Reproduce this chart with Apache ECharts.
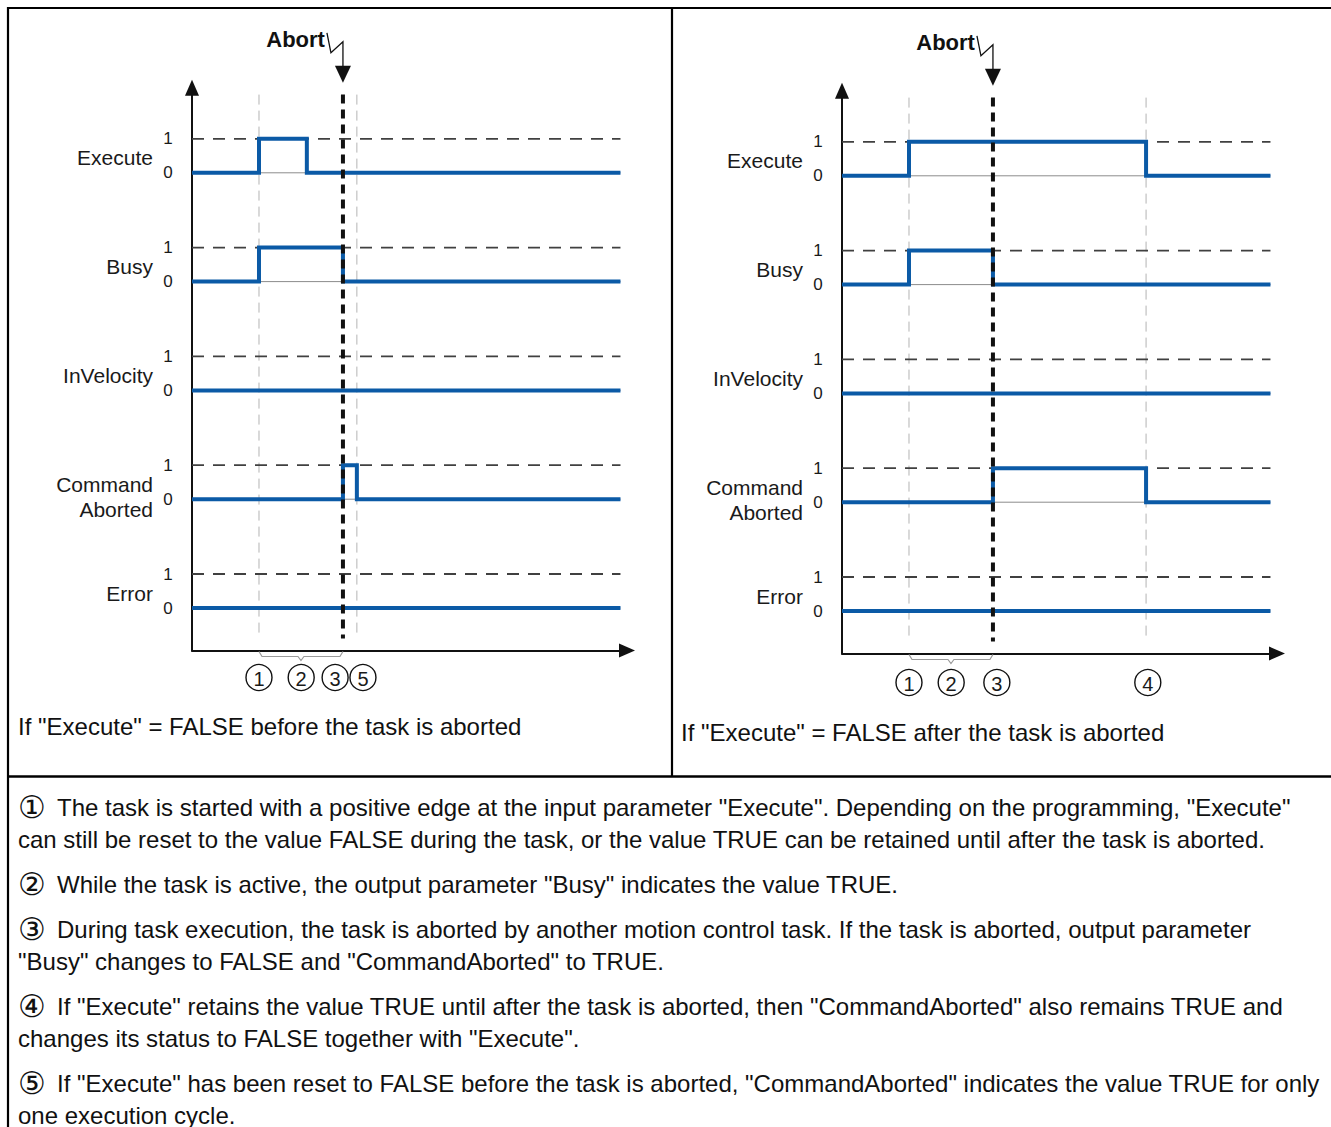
<!DOCTYPE html>
<html>
<head>
<meta charset="utf-8">
<script src="https://cdn.jsdelivr.net/npm/echarts@6/dist/echarts.min.js"></script>
<style>
html,body{margin:0;padding:0;background:#fff;}
#c{width:1331px;height:1127px;}
</style>
</head>
<body>
<div id="c"></div>
<script>
// ---------------- data ----------------
const signalNames = ['Execute', 'Busy', 'InVelocity', 'Command\nAborted', 'Error'];
const levelLabels = ['0', '1'];

// left panel: "Execute" = FALSE before the task is aborted  [time, level]
const leftExecute        = [[0, 0], [15.4, 1], [26.4, 0], [98.5, 0]];
const leftBusy           = [[0, 0], [15.4, 1], [34.7, 0], [98.5, 0]];
const leftInVelocity     = [[0, 0], [98.5, 0]];
const leftCommandAborted = [[0, 0], [34.7, 1], [37.9, 0], [98.5, 0]];
const leftError          = [[0, 0], [98.5, 0]];
const leftGuideTimes     = [15.4, 37.9];
const leftAbortTime      = 34.7;
const leftMarkerLabels   = ['1', '2', '3', '5'];
const leftMarkerTimes    = [15.4, 25.1, 32.9, 39.3];
const leftBraceTimes     = [15.4, 34.7];
const leftCaption        = 'If "Execute" = FALSE before the task is aborted';

// right panel: "Execute" = FALSE after the task is aborted
const rightExecute        = [[0, 0], [15.4, 1], [69.9, 0], [98.5, 0]];
const rightBusy           = [[0, 0], [15.4, 1], [34.7, 0], [98.5, 0]];
const rightInVelocity     = [[0, 0], [98.5, 0]];
const rightCommandAborted = [[0, 0], [34.7, 1], [69.9, 0], [98.5, 0]];
const rightError          = [[0, 0], [98.5, 0]];
const rightGuideTimes     = [15.4, 69.9];
const rightAbortTime      = 34.7;
const rightMarkerLabels   = ['1', '2', '3', '4'];
const rightMarkerTimes    = [15.4, 25.1, 35.6, 70.3];
const rightBraceTimes     = [15.4, 34.7];
const rightCaption        = 'If "Execute" = FALSE after the task is aborted';

const abortLabel = 'Abort';

const noteSymbols = ['\u2460', '\u2461', '\u2462', '\u2463', '\u2464'];
const noteParagraphs = [
  ['The task is started with a positive edge at the input parameter "Execute". Depending on the programming, "Execute"',
   'can still be reset to the value FALSE during the task, or the value TRUE can be retained until after the task is aborted.'],
  ['While the task is active, the output parameter "Busy" indicates the value TRUE.'],
  ['During task execution, the task is aborted by another motion control task. If the task is aborted, output parameter',
   '"Busy" changes to FALSE and "CommandAborted" to TRUE.'],
  ['If "Execute" retains the value TRUE until after the task is aborted, then "CommandAborted" also remains TRUE and',
   'changes its status to FALSE together with "Execute".'],
  ['If "Execute" has been reset to FALSE before the task is aborted, "CommandAborted" indicates the value TRUE for only',
   'one execution cycle.']
];

// ---------------- layout / style ----------------
const FONT = '"Liberation Sans", Arial, Helvetica, sans-serif';
const BLUE = '#0b5aa6';
const LANE = 3.2;          // vertical gap between lanes (axis units)
const Y_MIN = -1.25, Y_MAX = 15.3;
const X_MIN = 0, X_MAX = 100;
const GUIDE_TOP = 15.1, GUIDE_BOTTOM = -0.9;

const panels = [
  { signals: [leftExecute, leftBusy, leftInVelocity, leftCommandAborted, leftError],
    guides: leftGuideTimes, abort: leftAbortTime, markerLabels: leftMarkerLabels,
    markerTimes: leftMarkerTimes, brace: leftBraceTimes, caption: leftCaption,
    grid: { left: 192, top: 87.8, width: 435, height: 562.7 },
    markerDy: 27, captionPos: [18, 726] },
  { signals: [rightExecute, rightBusy, rightInVelocity, rightCommandAborted, rightError],
    guides: rightGuideTimes, abort: rightAbortTime, markerLabels: rightMarkerLabels,
    markerTimes: rightMarkerTimes, brace: rightBraceTimes, caption: rightCaption,
    grid: { left: 842, top: 90.8, width: 435, height: 562.7 },
    markerDy: 29, captionPos: [681, 732] }
];

const laneOffset = i => (signalNames.length - 1 - i) * LANE;

const chart = echarts.init(document.getElementById('c'), null, { renderer: 'svg' });

const grids = [], xAxes = [], yAxes = [], series = [];
panels.forEach((p, pi) => {
  grids.push(Object.assign({ containLabel: false }, p.grid));
  const axisLine = { show: true, onZero: false, symbol: ['none', 'triangle'], symbolSize: [14, 16],
                     lineStyle: { color: '#111', width: 2 } };
  xAxes.push({ type: 'value', gridIndex: pi, min: X_MIN, max: X_MAX, axisLine: axisLine,
               axisTick: { show: false }, axisLabel: { show: false }, splitLine: { show: false } });
  yAxes.push({ type: 'value', gridIndex: pi, min: Y_MIN, max: Y_MAX, axisLine: axisLine,
               axisTick: { show: false }, axisLabel: { show: false }, splitLine: { show: false } });
  const end = p.signals[0][p.signals[0].length - 1][0];
  // guides (thin grey dashed verticals)
  p.guides.forEach(t => {
    series.push({ type: 'line', xAxisIndex: pi, yAxisIndex: pi, symbol: 'none', silent: true, z: 1,
      data: [[t, GUIDE_TOP], [t, GUIDE_BOTTOM]],
      lineStyle: { color: '#b4b4b4', width: 1, type: [10, 6] } });
  });
  p.signals.forEach((sig, i) => {
    const off = laneOffset(i);
    // "1" level dashed reference
    series.push({ type: 'line', xAxisIndex: pi, yAxisIndex: pi, symbol: 'none', silent: true, z: 2,
      data: [[0, off + 1], [end, off + 1]],
      lineStyle: { color: '#404040', width: 1.8, type: [12, 9] } });
    // "0" level thin baseline
    series.push({ type: 'line', xAxisIndex: pi, yAxisIndex: pi, symbol: 'none', silent: true, z: 2,
      data: [[0, off], [end, off]],
      lineStyle: { color: '#8c8c8c', width: 1 } });
    // signal
    series.push({ type: 'line', name: signalNames[i], xAxisIndex: pi, yAxisIndex: pi, symbol: 'none',
      step: 'end', silent: true, z: 4,
      data: sig.map(d => [d[0], d[1] + off]),
      lineStyle: { color: BLUE, width: 4, join: 'miter' } });
  });
  // abort line (thick black dashed)
  series.push({ type: 'line', xAxisIndex: pi, yAxisIndex: pi, symbol: 'none', silent: true, z: 5,
    data: [[p.abort, GUIDE_TOP], [p.abort, GUIDE_BOTTOM]],
    lineStyle: { color: '#111', width: 4, type: [9, 6] } });
});

chart.setOption({
  animation: false,
  backgroundColor: '#ffffff',
  grid: grids, xAxis: xAxes, yAxis: yAxes, series: series
});

// ---------------- annotations ----------------
const g = [];
function txt(x, y, text, opt) {
  opt = opt || {};
  g.push({ type: 'text', x: x, y: y, z: 20, silent: true,
    style: { text: text, fill: opt.fill || '#1a1a1a', fontSize: opt.size || 21, fontFamily: opt.family || FONT,
      fontWeight: opt.weight || 'normal',
      align: opt.align || 'left', textAlign: opt.align || 'left',
      verticalAlign: 'middle', textVerticalAlign: 'middle',
      lineHeight: opt.lineHeight || undefined } });
}
function line(x1, y1, x2, y2, color, w) {
  g.push({ type: 'line', z: 20, silent: true, shape: { x1, y1, x2, y2 },
    style: { stroke: color, lineWidth: w, lineCap: 'butt' } });
}

// frame
line(7, 8, 1331, 8, '#000', 2.2);
line(8, 7, 8, 1127, '#000', 2.2);
line(672, 7, 672, 777, '#000', 2.2);
line(7, 776.5, 1331, 776.5, '#000', 2.5);

panels.forEach((p, pi) => {
  const px = (x, y) => chart.convertToPixel({ gridIndex: pi }, [x, y]);
  const axisX = px(0, 0)[0];
  const axisBottom = px(0, Y_MIN)[1];
  const gridTop = px(0, Y_MAX)[1];
  // lane labels
  signalNames.forEach((name, i) => {
    const y0 = px(0, laneOffset(i))[1];
    const y1 = px(0, laneOffset(i) + 1)[1];
    txt(axisX - 24, y1, levelLabels[1], { size: 17, align: 'center' });
    txt(axisX - 24, y0, levelLabels[0], { size: 17, align: 'center' });
    if (name.indexOf('\n') >= 0) {
      txt(axisX - 39, y0 - 2.5, name, { size: 21, align: 'right', lineHeight: 25 });
    } else {
      txt(axisX - 39, y0 - 15, name, { size: 21, align: 'right' });
    }
  });
  // abort annotation
  const ax = px(p.abort, 0)[0];
  txt(ax - 18, gridTop - 48, abortLabel, { size: 22, weight: 'bold', align: 'right', fill: '#111' });
  g.push({ type: 'polyline', z: 20, silent: true,
    shape: { points: [[ax - 16, gridTop - 55], [ax - 12, gridTop - 35], [ax, gridTop - 46], [ax, gridTop - 21]] },
    style: { stroke: '#111', lineWidth: 1.3, fill: null } });
  g.push({ type: 'polygon', z: 20, silent: true,
    shape: { points: [[ax - 8, gridTop - 22], [ax + 8, gridTop - 22], [ax, gridTop - 5]] },
    style: { fill: '#111' } });
  // brace under axis
  const bx1 = px(p.brace[0], 0)[0], bx2 = px(p.brace[1], 0)[0];
  const bm = (bx1 + bx2) / 2, by = axisBottom + 1;
  g.push({ type: 'polyline', z: 20, silent: true,
    shape: { points: [[bx1, by], [bx1 + 3, by + 5], [bm - 3, by + 5], [bm, by + 9], [bm + 3, by + 5],
                      [bx2 - 3, by + 5], [bx2, by]] },
    style: { stroke: '#9a9a9a', lineWidth: 1.2, fill: null } });
  // circled markers
  p.markerTimes.forEach((t, k) => {
    const cx = px(t, 0)[0], cy = axisBottom + p.markerDy;
    g.push({ type: 'circle', z: 20, silent: true, shape: { cx: cx, cy: cy, r: 13 },
      style: { stroke: '#111', lineWidth: 1.4, fill: '#fff' } });
    txt(cx, cy + 1, p.markerLabels[k], { size: 20, align: 'center' });
  });
  // caption
  txt(p.captionPos[0], p.captionPos[1], p.caption, { size: 24, fill: '#111' });
});

// notes
let ny = 807;
noteParagraphs.forEach((para, k) => {
  para.forEach((ln, li) => {
    if (li === 0) {
      txt(32, ny, noteSymbols[k], { size: 31, fill: '#111', align: 'center' });
      txt(57, ny, ln, { size: 24, fill: '#111' });
    } else {
      txt(18, ny, ln, { size: 24, fill: '#111' });
    }
    if (li < para.length - 1) ny += 32;
  });
  ny += 45;
});

chart.setOption({ graphic: g });
</script>
</body>
</html>
